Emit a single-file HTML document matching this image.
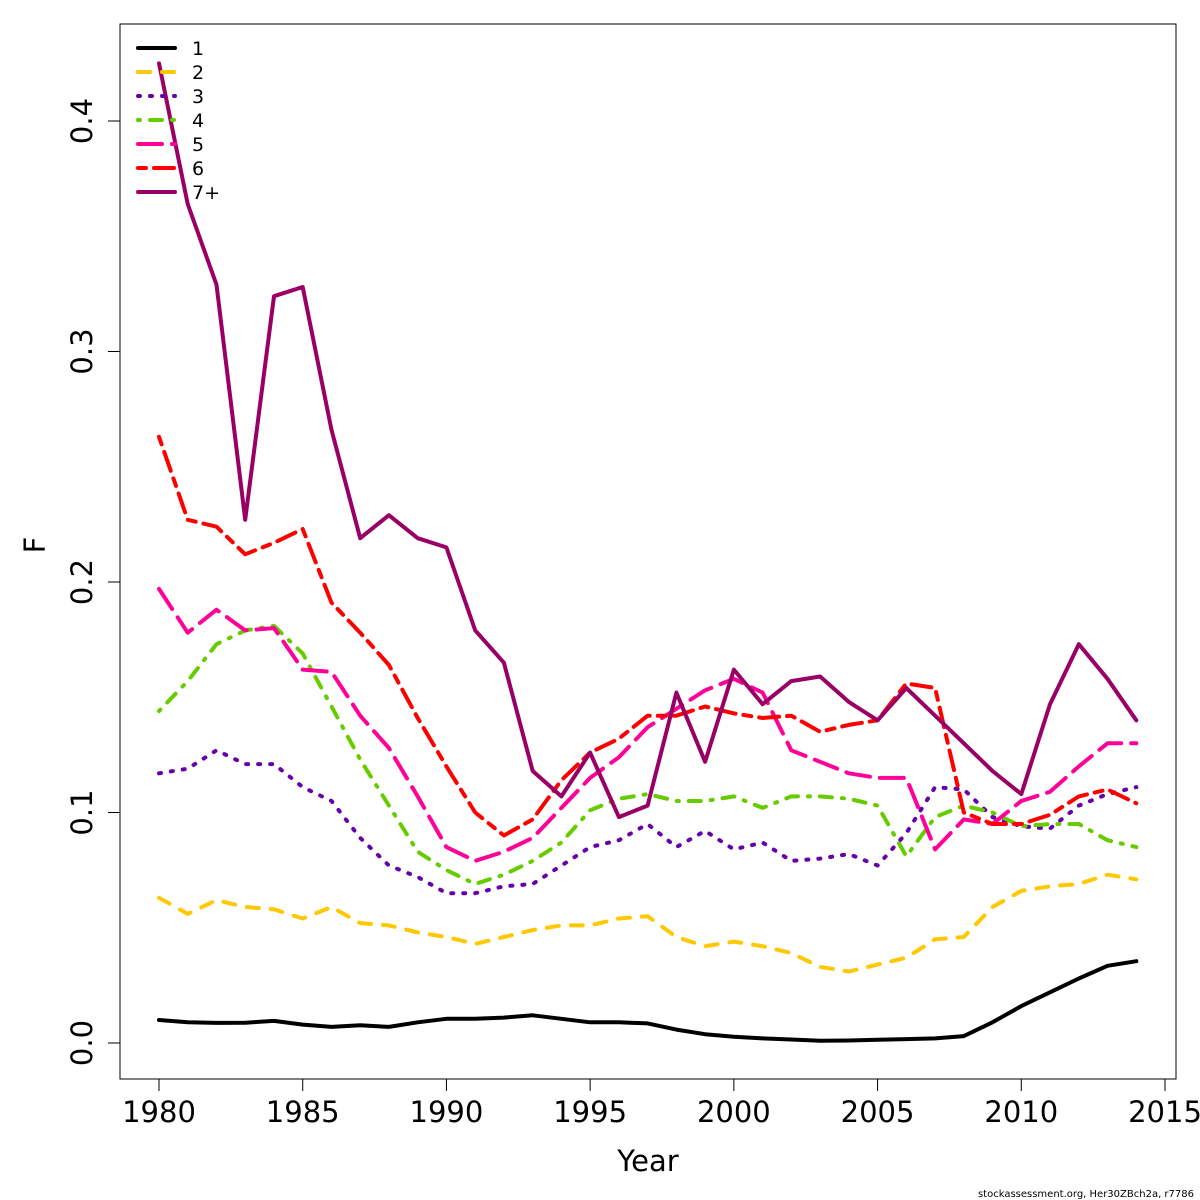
<!DOCTYPE html>
<html><head><meta charset="utf-8"><style>
body{margin:0;background:#fff}
svg{display:block;font-family:"DejaVu Sans","Liberation Sans",sans-serif}
</style></head><body>
<svg id="chart" width="1200" height="1200" viewBox="0 0 1200 1200">
<rect x="120" y="24" width="1056" height="1055" fill="none" stroke="#000" stroke-width="1"/>
<g id="axes"></g>
<g id="series"></g>
<g id="legend"></g>
<text x="35" y="545" font-size="29" text-anchor="middle" transform="rotate(-90 35 545)" dy="10">F</text>
<text x="648" y="1171" font-size="29" text-anchor="middle">Year</text>
<text x="1194" y="1197" font-size="10" text-anchor="end">stockassessment.org, Her30ZBch2a, r7786</text>
</svg>
<script>
const years=[];for(let y=1980;y<=2014;y++)years.push(y);
const xTicks=[1980,1985,1990,1995,2000,2005,2010,2015];
const yTicks=[0,0.1,0.2,0.3,0.4];
const yTickLabels=["0.0","0.1","0.2","0.3","0.4"];
const seriesNames=["1","2","3","4","5","6","7+"];
const f1=[0.010,0.009,0.0087,0.0088,0.0096,0.008,0.007,0.0077,0.007,0.009,0.0105,0.0105,0.011,0.012,0.0105,0.009,0.009,0.0085,0.0058,0.0038,0.0027,0.002,0.0015,0.001,0.0011,0.0014,0.0017,0.002,0.003,0.009,0.016,0.022,0.028,0.0335,0.0355];
const f2=[0.063,0.056,0.062,0.059,0.058,0.054,0.059,0.052,0.051,0.048,0.046,0.043,0.046,0.049,0.051,0.051,0.054,0.055,0.046,0.042,0.044,0.042,0.039,0.033,0.031,0.034,0.037,0.045,0.046,0.059,0.066,0.068,0.069,0.073,0.071];
const f3=[0.117,0.119,0.127,0.121,0.121,0.111,0.105,0.089,0.077,0.072,0.065,0.065,0.068,0.069,0.077,0.085,0.088,0.095,0.085,0.092,0.084,0.087,0.079,0.080,0.082,0.077,0.091,0.111,0.110,0.098,0.094,0.093,0.103,0.108,0.111];
const f4=[0.144,0.157,0.173,0.179,0.181,0.169,0.146,0.123,0.103,0.083,0.075,0.069,0.073,0.079,0.087,0.101,0.106,0.108,0.105,0.105,0.107,0.102,0.107,0.107,0.106,0.103,0.081,0.098,0.103,0.100,0.094,0.095,0.095,0.088,0.085];
const f5=[0.197,0.178,0.188,0.179,0.180,0.162,0.161,0.142,0.128,0.107,0.085,0.079,0.083,0.089,0.102,0.115,0.124,0.137,0.145,0.153,0.158,0.152,0.127,0.122,0.117,0.115,0.115,0.084,0.097,0.095,0.105,0.109,0.120,0.130,0.130];
const f6=[0.263,0.227,0.224,0.212,0.217,0.223,0.191,0.178,0.164,0.141,0.120,0.100,0.090,0.097,0.114,0.126,0.132,0.142,0.142,0.146,0.143,0.141,0.142,0.135,0.138,0.140,0.156,0.154,0.100,0.095,0.095,0.099,0.107,0.110,0.104];
const f7=[0.425,0.364,0.329,0.227,0.324,0.328,0.266,0.219,0.229,0.219,0.215,0.179,0.165,0.118,0.107,0.126,0.098,0.103,0.152,0.122,0.162,0.147,0.157,0.159,0.148,0.140,0.154,0.142,0.130,0.118,0.108,0.147,0.173,0.158,0.140];
const colors=["#000000","#FFC800","#6600AA","#66CC00","#FF0099","#FF0000","#990066"];
const dashes=["","12 12","2 10","2 10 12 10","24 10","8 8 20 8",""];
const NS="http://www.w3.org/2000/svg";
const xs=v=>159+(v-1980)*(1165-159)/35;
const ys=v=>1043-v*2305;
function mk(tag,attrs,parent){const e=document.createElementNS(NS,tag);for(const k in attrs)e.setAttribute(k,attrs[k]);parent.appendChild(e);return e;}
const ax=document.getElementById('axes');
let l=mk('line',{x1:xs(1980),x2:xs(2015),y1:1079,y2:1079,stroke:'#000'},ax);


xTicks.forEach(t=>{
 const tk=mk('line',{x1:xs(t),x2:xs(t),y1:1079,y2:1091,stroke:'#000'},ax);
 
 
 const tx=mk('text',{x:xs(t),y:1122,'font-size':29,'text-anchor':'middle'},ax);tx.textContent=t;
 
 
});
l=mk('line',{x1:120,x2:120,y1:ys(0),y2:ys(0.4),stroke:'#000'},ax);


yTicks.forEach((t,i)=>{
 const tk=mk('line',{x1:108,x2:120,y1:ys(t),y2:ys(t),stroke:'#000'},ax);
 
 
 const y=ys(t);
 const tx=mk('text',{x:92,y:y,'font-size':29,'text-anchor':'middle',transform:`rotate(-90 92 ${y})`},ax);tx.textContent=yTickLabels[i];
 
 
});
const data=[f1,f2,f3,f4,f5,f6,f7];
const sg=document.getElementById('series');
data.forEach((arr,i)=>{
 const d=arr.map((v,j)=>(j?'L':'M')+xs(years[j]).toFixed(1)+' '+ys(v).toFixed(1)).join(' ');
 const p=mk('path',{d:d,fill:'none',stroke:colors[i],'stroke-width':4,'stroke-linecap':'round','stroke-linejoin':'round','stroke-dasharray':dashes[i]},sg);
 
 
});
const lg=document.getElementById('legend');
seriesNames.forEach((n,i)=>{
 const y=48+i*24;
 const g=mk('g',{},lg);
 
 
 mk('line',{x1:138,x2:175,y1:y,y2:y,stroke:colors[i],'stroke-width':4,'stroke-linecap':'round','stroke-dasharray':dashes[i]},g);
 const t=mk('text',{x:192,y:y+7,'font-size':19},g);t.textContent=n;
});
</script>
</body></html>
